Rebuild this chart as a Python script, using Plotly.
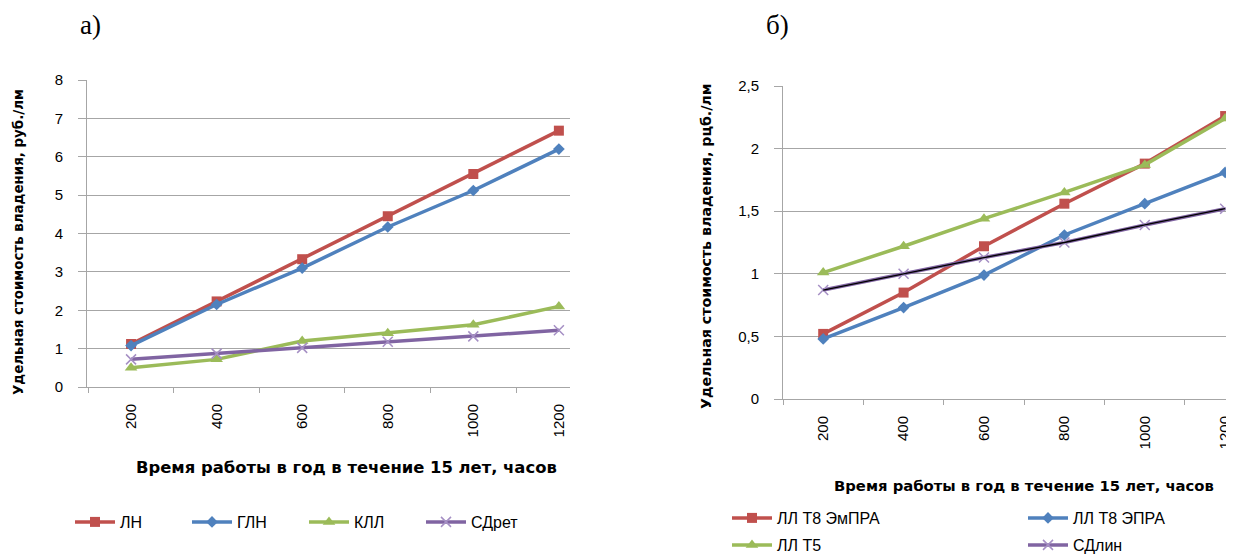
import plotly.graph_objects as go

# ---------------- data ----------------
hours = ["200", "400", "600", "800", "1000", "1200"]

# chart а)
ln = [1.12, 2.23, 3.33, 4.45, 5.55, 6.68]
gln = [1.08, 2.15, 3.10, 4.17, 5.12, 6.20]
kll = [0.50, 0.72, 1.20, 1.40, 1.62, 2.10]
sdret = [0.72, 0.87, 1.02, 1.18, 1.32, 1.48]

# chart б)
t8_empra = [0.52, 0.85, 1.22, 1.56, 1.88, 2.26]
t8_epra = [0.48, 0.73, 0.99, 1.31, 1.56, 1.81]
t5 = [1.01, 1.22, 1.44, 1.65, 1.87, 2.24]
sdlin = [0.87, 1.00, 1.13, 1.25, 1.39, 1.52]

left_ticks = [0, 1, 2, 3, 4, 5, 6, 7, 8]
right_ticks = [0, 0.5, 1, 1.5, 2, 2.5]
right_ticktext = ["0", "0,5", "1", "1,5", "2", "2,5"]

# ---------------- styles ----------------
RED = "#C0504D"
BLUE = "#4F81BD"
GREEN = "#9BBB59"
PURPLE = "#8064A2"
GRID = "#A6A6A6"
SANS = "Liberation Sans"
BOLD = "DejaVu Sans"
SERIF = "Liberation Serif"

# the page body adds an 8px offset; size the figure to the remaining window
OFF = 8
W, H = 1234 - OFF, 554 - OFF


def px_x(p):
    return (p - OFF) / W


def px_y(p):
    return 1 - (p - OFF) / H


fig = go.Figure()


def add_series(x, y, name, color, symbol, msize, xa, ya, legend, mline=None):
    marker = dict(symbol=symbol, size=msize, color=color)
    if mline:
        marker["line"] = mline
    fig.add_trace(go.Scatter(
        x=x, y=y, name=name, mode="lines+markers",
        line=dict(color=color, width=3.5),
        marker=marker, xaxis=xa, yaxis=ya, legend=legend,
    ))


# chart а)
add_series(hours, ln, "ЛН", RED, "square", 10, "x", "y", "legend")
add_series(hours, gln, "ГЛН", BLUE, "diamond", 9, "x", "y", "legend")
add_series(hours, kll, "КЛЛ", GREEN, "triangle-up", 11, "x", "y", "legend")
add_series(hours, sdret, "СДрет", PURPLE, "x-thin", 10, "x", "y", "legend",
           mline=dict(color="#A58FC4", width=1.5))

# chart б)
add_series(hours, t8_empra, "ЛЛ Т8 ЭмПРА", RED, "square", 10, "x2", "y2", "legend2")
add_series(hours, t8_epra, "ЛЛ Т8 ЭПРА", BLUE, "diamond", 9, "x2", "y2", "legend2")
add_series(hours, t5, "ЛЛ Т5", GREEN, "triangle-up", 11, "x2", "y2", "legend3")
add_series(hours, sdlin, "СДлин", PURPLE, "x-thin", 10, "x2", "y2", "legend3",
           mline=dict(color="#A58FC4", width=1.5))
fig.add_trace(go.Scatter(
    x=hours, y=sdlin, mode="lines", line=dict(color="#000000", width=1.3),
    xaxis="x2", yaxis="y2", showlegend=False, hoverinfo="skip",
))

xaxis_common = dict(
    type="category", tickson="boundaries", ticks="outside", ticklen=5,
    tickcolor=GRID, showline=True, linecolor=GRID, linewidth=1,
    showgrid=False, tickangle=-90, ticklabelstandoff=10,
    tickfont=dict(family=SANS, size=15, color="#000"), automargin=False,
    zeroline=False, fixedrange=True,
)
yaxis_common = dict(
    ticks="outside", ticklen=8, tickcolor=GRID, showline=True, linecolor=GRID,
    linewidth=1, showgrid=True, gridcolor=GRID, gridwidth=1,
    tickfont=dict(family=SANS, size=15, color="#000"), automargin=False,
    zeroline=False, ticklabelstandoff=12, fixedrange=True,
)

legend_common = dict(orientation="h", xanchor="left", yanchor="middle",
                     font=dict(family=SANS, size=16), itemwidth=40,
                     bgcolor="rgba(0,0,0,0)")

fig.update_layout(
    width=W, height=H,
    margin=dict(l=0, r=0, t=0, b=0, autoexpand=False),
    paper_bgcolor="white", plot_bgcolor="white",
    font=dict(family=SANS, color="#000"),
    xaxis=dict(domain=[px_x(87), px_x(570)], range=[-0.515, 5.13],
               anchor="y", **xaxis_common),
    yaxis=dict(domain=[px_y(387), px_y(80)], range=[0, 8],
               tickvals=left_ticks, anchor="x", **yaxis_common),
    xaxis2=dict(domain=[px_x(783), 1.0], range=[-0.5, 5.11],
                anchor="y2", **xaxis_common),
    yaxis2=dict(domain=[px_y(399), px_y(86)], range=[0, 2.5],
                tickvals=right_ticks, ticktext=right_ticktext,
                anchor="x2", **yaxis_common),
    legend=dict(x=px_x(70), y=px_y(522), entrywidth=62, **legend_common),
    legend2=dict(x=px_x(727), y=px_y(518), entrywidth=241, **legend_common),
    legend3=dict(x=px_x(727), y=px_y(545), entrywidth=241, **legend_common),
    showlegend=True,
)

annotations = [
    dict(text="а)", x=px_x(78), y=px_y(25), xanchor="left", yanchor="middle",
         font=dict(family=SERIF, size=27)),
    dict(text="б)", x=px_x(764), y=px_y(25), xanchor="left", yanchor="middle",
         font=dict(family=SERIF, size=27)),
    dict(text="<b>Удельная стоимость владения, руб./лм</b>", x=px_x(18),
         y=px_y(242), textangle=-90, xanchor="center", yanchor="middle",
         font=dict(family=BOLD, size=13.4)),
    dict(text="<b>Удельная стоимость владения, рцб./лм</b>", x=px_x(706),
         y=px_y(247), textangle=-90, xanchor="center", yanchor="middle",
         font=dict(family=BOLD, size=14.2)),
    dict(text="<b>Время работы в год в течение 15 лет, часов</b>",
         x=px_x(347), y=px_y(467), xanchor="center", yanchor="middle",
         font=dict(family=BOLD, size=16.4)),
    dict(text="<b>Время работы в год в течение 15 лет, часов</b>",
         x=px_x(1024), y=px_y(485), xanchor="center", yanchor="middle",
         font=dict(family=BOLD, size=14.8)),
]
for a in annotations:
    a.update(xref="paper", yref="paper", showarrow=False)
fig.update_layout(annotations=annotations)

fig.write_html("out.html")
